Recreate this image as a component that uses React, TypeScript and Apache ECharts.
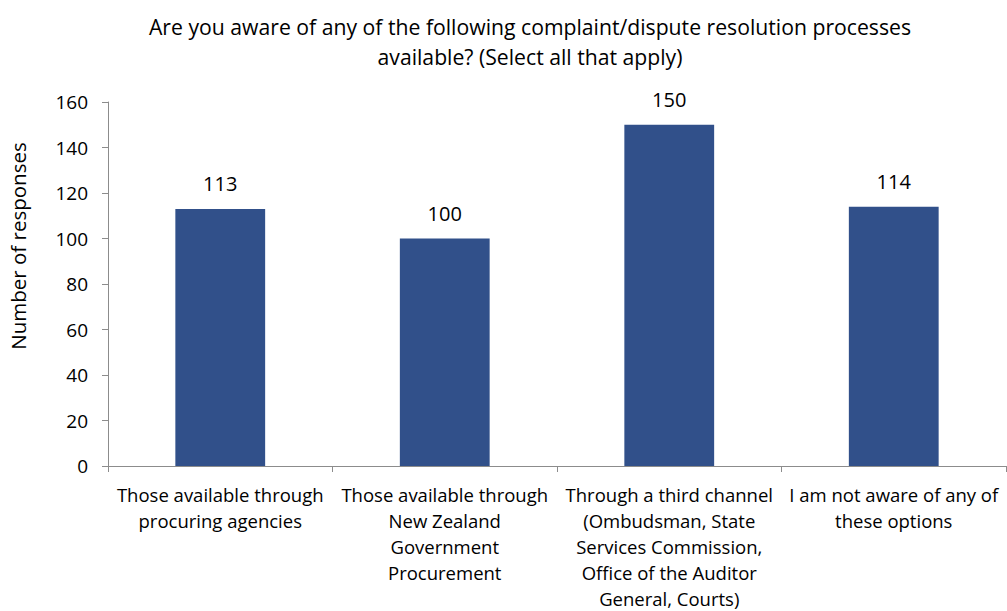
import React, { useEffect, useRef } from "react";
import * as echarts from "echarts";

const categories = [
  "Those available through\nprocuring agencies",
  "Those available through\nNew Zealand\nGovernment\nProcurement",
  "Through a third channel\n(Ombudsman, State\nServices Commission,\nOffice of the Auditor\nGeneral, Courts)",
  "I am not aware of any of\nthese options",
];
const values = [113, 100, 150, 114];
const titleText =
  "Are you aware of any of the following complaint/dispute resolution processes\navailable? (Select all that apply)";
const yAxisName = "Number of responses";

const FONT = "'Open Sans', 'Noto Sans', sans-serif";

export default function App() {
  const ref = useRef<HTMLDivElement>(null);
  useEffect(() => {
    document.body.style.margin = "0";
    const chart = echarts.init(ref.current!, null, { renderer: "svg" });
    chart.setOption({
      animation: false,
      backgroundColor: "#ffffff",
      textStyle: { fontFamily: FONT },
      title: {
        text: titleText,
        left: 530,
        textAlign: "center",
        top: 11,
        padding: 0,
        textStyle: {
          fontFamily: FONT,
          fontSize: 21.2,
          fontWeight: "normal",
          color: "#000000",
          lineHeight: 30,
        },
      },
      graphic: [
        {
          type: "text",
          x: 18,
          y: 246,
          rotation: Math.PI / 2,
          style: {
            text: yAxisName,
            fontFamily: FONT,
            fontSize: 20.5,
            fill: "#000000",
            align: "center",
            verticalAlign: "middle",
          },
        },
      ],
      grid: { left: 108, right: 1, top: 102, bottom: 140, containLabel: false },
      xAxis: {
        type: "category",
        data: categories,
        axisLine: { lineStyle: { color: "#8c8c8c", width: 1 } },
        axisTick: { show: true, alignWithLabel: false, length: 6, lineStyle: { color: "#8c8c8c" } },
        axisLabel: {
          interval: 0,
          color: "#000000",
          fontFamily: FONT,
          fontSize: 18.5,
          lineHeight: 26,
          margin: 15,
        },
      },
      yAxis: {
        type: "value",
        min: 0,
        max: 160,
        interval: 20,
        axisLine: { show: true, lineStyle: { color: "#8c8c8c", width: 1 } },
        axisTick: { show: true, length: 6, lineStyle: { color: "#8c8c8c" } },
        splitLine: { show: false },
        axisLabel: { color: "#000000", fontFamily: FONT, fontSize: 19, margin: 20 },
      },
      series: [
        {
          type: "bar",
          data: values,
          barWidth: "40%",
          itemStyle: { color: "#31508a" },
          label: {
            show: true,
            position: "top",
            distance: 15,
            color: "#000000",
            fontFamily: FONT,
            fontSize: 20,
          },
        },
      ],
    });
    return () => chart.dispose();
  }, []);
  return <div ref={ref} style={{ width: 1007, height: 611 }} />;
}
